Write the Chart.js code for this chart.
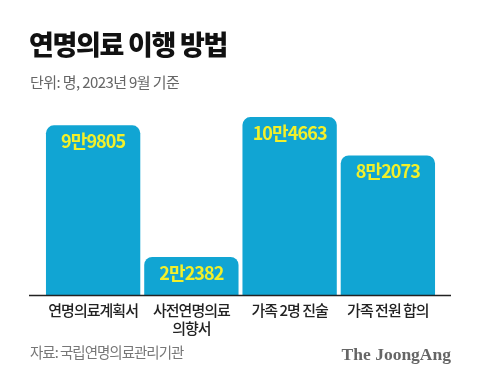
<!DOCTYPE html>
<html>
<head>
<meta charset="utf-8">
<script src="https://cdn.jsdelivr.net/npm/chart.js@4"></script>
<style>
  body { margin: 0; background: #fff; font-family: "Noto Sans CJK KR", sans-serif; }
  #wrap { position: relative; width: 480px; height: 385px; overflow: hidden; }
  #myBarChart { position: absolute; left: 0; top: 0; }
  .txt { position: absolute; white-space: nowrap; line-height: 1; }
  #title { left: 29px; top: 30px; font-size: 27px; font-weight: 900; color: #111; letter-spacing: -1.3px; }
  #sub { left: 30px; top: 74px; font-size: 15px; color: #666; letter-spacing: -0.6px; }
  #source { left: 30px; top: 345px; font-size: 14.5px; color: #777; letter-spacing: -1px; }
  #brand { right: 29px; top: 346px; font-family: "Liberation Serif", serif; font-weight: 700; font-size: 17.5px; color: #666; }
</style>
</head>
<body>
<div id="wrap">
  <canvas id="myBarChart" width="480" height="385"></canvas>
  <div class="txt" id="title">연명의료 이행 방법</div>
  <div class="txt" id="sub">단위: 명, 2023년 9월 기준</div>
  <div class="txt" id="source">자료: 국립연명의료관리기관</div>
  <div class="txt" id="brand">The JoongAng</div>
</div>
<script>
const categories = ['연명의료계획서', ['사전연명의료', '의향서'], '가족 2명 진술', '가족 전원 합의'];
const values = [99805, 22382, 104663, 82073];

function manWon(v) {
  const man = Math.floor(v / 10000);
  const rest = String(v % 10000).padStart(4, '0');
  return man + '만' + rest;
}

// value labels inside the top of each bar
const valueLabels = {
  id: 'valueLabels',
  afterDatasetsDraw(chart) {
    const ctx = chart.ctx;
    const meta = chart.getDatasetMeta(0);
    ctx.save();
    ctx.font = 'bold 18px "Noto Sans CJK KR"';
    ctx.letterSpacing = '-0.9px';
    ctx.fillStyle = '#f2f02a';
    ctx.textAlign = 'center';
    ctx.textBaseline = 'middle';
    meta.data.forEach((bar, i) => {
      ctx.fillText(manWon(values[i]), bar.x, bar.y + 16);
    });
    ctx.restore();
  }
};

// baseline that runs a bit wider than the bars
const baseLine = {
  id: 'baseLine',
  afterDraw(chart) {
    const ctx = chart.ctx;
    const y = chart.chartArea.bottom + 0.5;
    ctx.save();
    ctx.strokeStyle = '#222';
    ctx.lineWidth = 1.5;
    ctx.beginPath();
    ctx.moveTo(29, y);
    ctx.lineTo(451, y);
    ctx.stroke();
    ctx.restore();
  }
};

const tightTicks = {
  id: 'tightTicks',
  beforeDraw(chart) { chart.ctx.letterSpacing = '-1px'; },
  afterDatasetsDraw(chart) { chart.ctx.letterSpacing = '0px'; }
};

document.addEventListener('DOMContentLoaded', () => {
  const ctx = document.getElementById('myBarChart').getContext('2d');

  new Chart(ctx, {
    type: 'bar',
    data: {
      labels: categories,
      datasets: [{
        data: values,
        backgroundColor: '#11a5d3',
        borderRadius: 8,
        borderSkipped: 'bottom',
        categoryPercentage: 1,
        barPercentage: 0.96
      }]
    },
    options: {
      responsive: false,
      animation: false,
      layout: { padding: { left: 44, right: 43, top: 108, bottom: 30 } },
      plugins: {
        legend: { display: false },
        tooltip: { enabled: false }
      },
      scales: {
        x: {
          grid: { display: false, drawTicks: false },
          border: { display: false },
          ticks: {
            color: '#222',
            padding: 6,
            maxRotation: 0,
            autoSkip: false,
            font: { family: '"Noto Sans CJK KR"', size: 15, weight: 500, lineHeight: 1.2 }
          },
          afterFit(scale) { scale.height = 60; }
        },
        y: {
          display: false,
          min: 0,
          max: 110000
        }
      }
    },
    plugins: [tightTicks, valueLabels, baseLine]
  });
});
</script>
</body>
</html>
